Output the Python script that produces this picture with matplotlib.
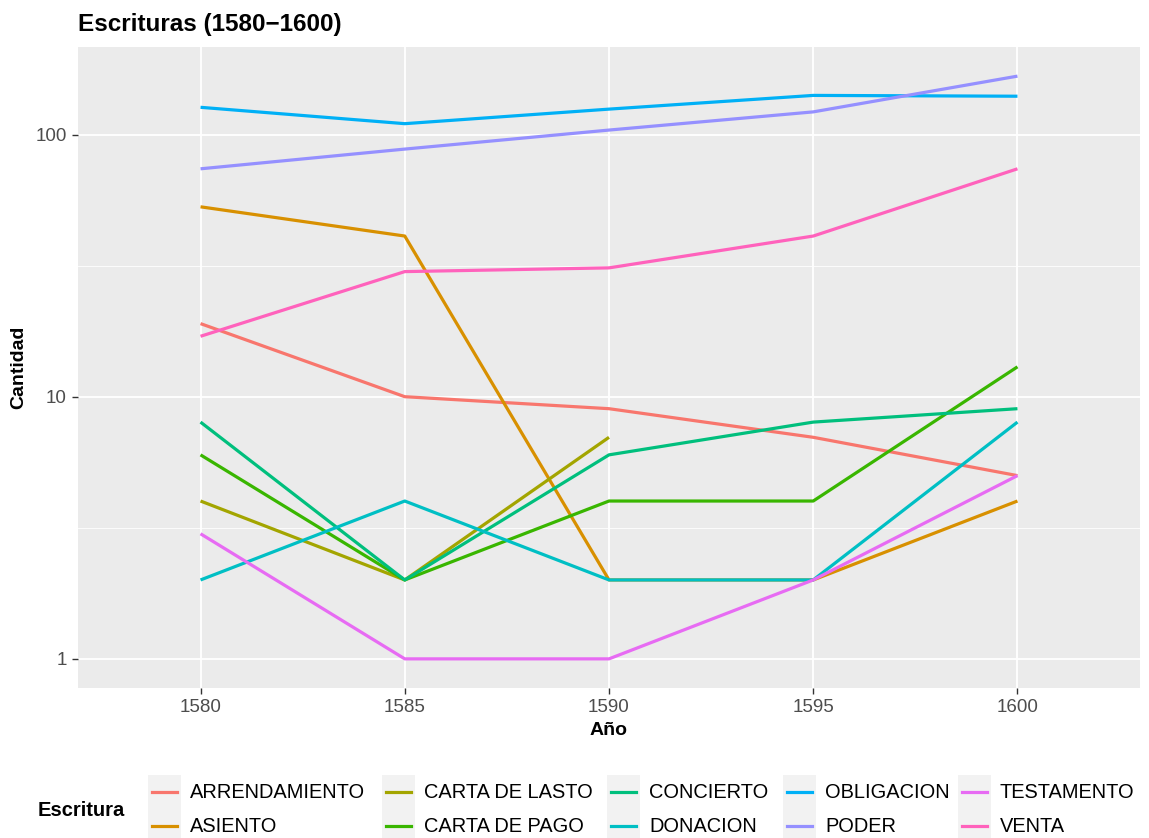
import numpy as np
import matplotlib
matplotlib.use("Agg")
import matplotlib.pyplot as plt
from matplotlib.patches import Rectangle
from matplotlib.lines import Line2D
from matplotlib.ticker import FixedLocator, NullFormatter

plt.rcParams['font.family'] = ['Liberation Sans', 'DejaVu Sans']

years = [1580, 1585, 1590, 1595, 1600]
tipos = ["ARRENDAMIENTO", "ASIENTO", "CARTA DE LASTO", "CARTA DE PAGO", "CONCIERTO",
         "DONACION", "OBLIGACION", "PODER", "TESTAMENTO", "VENTA"]
colores = ["#F8766D", "#D89000", "#A3A500", "#39B600", "#00BF7D",
           "#00BFC4", "#00B0F6", "#9590FF", "#E76BF3", "#FF62BC"]

arrendamiento = [19, 10, 9, 7, 5]
asiento = [53, 41, 2, 2, 4]
carta_de_lasto = [4, 2, 7, np.nan, np.nan]
carta_de_pago = [6, 2, 4, 4, 13]
concierto = [8, 2, 6, 8, 9]
donacion = [2, 4, 2, 2, 8]
obligacion = [127, 110, 125, 141, 140]
poder = [74, 88, 104, 122, 167]
testamento = [3, 1, 1, 2, 5]
venta = [17, 30, 31, 41, 74]

series = [arrendamiento, asiento, carta_de_lasto, carta_de_pago, concierto,
          donacion, obligacion, poder, testamento, venta]

W, H = 1149, 838
fig = plt.figure(figsize=(W / 100, H / 100), dpi=100)
fig.patch.set_facecolor("white")

def fx(px):
    return px / W

def fy(py):
    return 1 - py / H

left, right, top, bottom = 78, 1140, 47, 688
ax = fig.add_axes([fx(left), fy(bottom), fx(right) - fx(left), fy(top) - fy(bottom)])
ax.set_facecolor("#EBEBEB")
for s in ax.spines.values():
    s.set_visible(False)

ax.set_yscale("log")
ymin_log, ymax_log = 0.0, np.log10(167)
pad = 0.05 * (ymax_log - ymin_log)
ax.set_ylim(10 ** (ymin_log - pad), 10 ** (ymax_log + pad))
ax.set_xlim(1580 - 3, 1600 + 3)

ax.yaxis.set_major_locator(FixedLocator([1, 10, 100]))
ax.yaxis.set_minor_locator(FixedLocator([10 ** 0.5, 10 ** 1.5]))
ax.yaxis.set_minor_formatter(NullFormatter())
ax.set_yticklabels(["1", "10", "100"])
ax.set_xticks(years)
ax.set_xticklabels([str(y) for y in years])

ax.grid(True, which="major", color="white", linewidth=1.3)
ax.grid(True, which="minor", axis="y", color="white", linewidth=0.6)
ax.set_axisbelow(True)
ax.tick_params(axis="both", which="major", length=4, width=1.0, color="#333333",
               labelcolor="#4D4D4D", labelsize=13.5, pad=4)
ax.tick_params(axis="y", which="minor", length=0)

for vals, col in zip(series, colores):
    ax.plot(years, vals, color=col, linewidth=2.3, solid_capstyle="butt")

ax.set_xlabel("Año", fontsize=14, fontweight="bold", labelpad=4)
ax.set_ylabel("Cantidad", fontsize=14, fontweight="bold", labelpad=6)
fig.text(fx(78), fy(25), "Escrituras (1580\u22121600)", fontsize=17.5, fontweight="bold",
         ha="left", va="center")

# legend at the bottom, two rows, filled column by column
fig.text(fx(38), fy(810), "Escritura", fontsize=14.5, fontweight="bold", ha="left", va="center")
col_x = [148, 382, 607, 783, 958]
row_y = [792, 826]
kw, kh = 33, 34
for i, (name, col) in enumerate(zip(tipos, colores)):
    c, r = divmod(i, 2)
    x0 = col_x[c]
    yc = row_y[r]
    fig.add_artist(Rectangle((fx(x0), fy(yc + kh / 2)), kw / W, kh / H,
                             transform=fig.transFigure, facecolor="#F2F2F2",
                             edgecolor="none"))
    fig.add_artist(Line2D([fx(x0 + 4), fx(x0 + kw - 4)], [fy(yc), fy(yc)],
                          transform=fig.transFigure, color=col, linewidth=2.3))
    fig.text(fx(x0 + kw + 9), fy(yc), name, fontsize=14.4, ha="left", va="center",
             color="black")

fig.savefig("out.png", dpi=100)
